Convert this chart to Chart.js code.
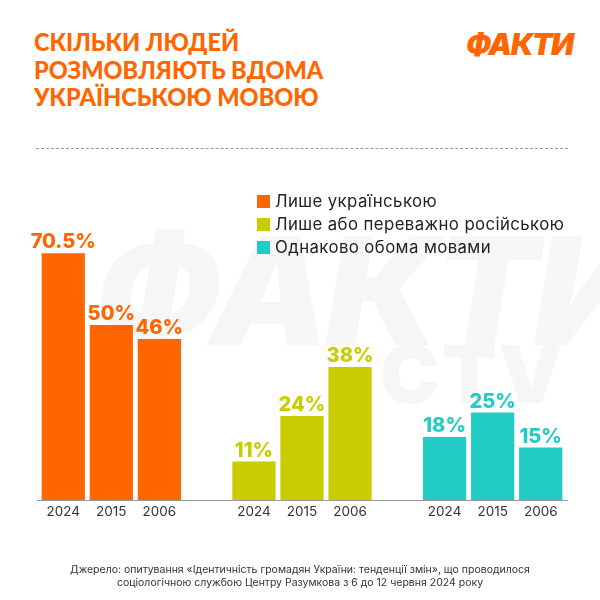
<!DOCTYPE html>
<html>
<head>
<meta charset="utf-8">
<script src="https://cdn.jsdelivr.net/npm/chart.js@4"></script>
<style>
  html, body { margin: 0; padding: 0; background: #fff; }
  #page { position: relative; width: 600px; height: 600px; overflow: hidden; font-family: Inter, "Noto Sans", sans-serif; }
  #title { position: absolute; left: 34px; top: 28px; color: #ff6600; font-family: Lato, sans-serif; font-weight: 900; font-size: 23.5px; line-height: 25.5px; letter-spacing: 0; transform: scaleY(1.08); transform-origin: 0 0; }
  #logo { position: absolute; left: 466px; top: 26px; color: #ff6600; font-weight: 900; font-style: italic; font-size: 30px; letter-spacing: -1.5px; }
  #rule { position: absolute; left: 36px; top: 148px; width: 532px; border-top: 1px dashed #9a9a9a; }
  #wm1 { position: absolute; left: 95px; top: 200px; color: #f6f6f6; font-weight: 900; font-style: italic; font-size: 150px; letter-spacing: -4px; }
  #wm2 { position: absolute; left: 380px; top: 325px; color: #f6f6f6; font-weight: 900; font-size: 80px; letter-spacing: 2px; }
  #legend { position: absolute; left: 257px; top: 190px; font-size: 16.8px; letter-spacing: 0.4px; color: #222; line-height: 23px; }
  #legend .sw { display: inline-block; width: 13px; height: 13px; margin-right: 5px; vertical-align: -1px; }
  #chart { position: absolute; left: 0; top: 0; }
  #source { position: absolute; left: 0; top: 563px; width: 600px; text-align: center; font-size: 10.5px; line-height: 13px; color: #333; }
</style>
</head>
<body>
<div id="page">
  <div id="wm1">ФАКТИ</div>
  <div id="wm2">CTV</div>
  <div id="title">СКІЛЬКИ ЛЮДЕЙ<br>РОЗМОВЛЯЮТЬ ВДОМА<br>УКРАЇНСЬКОЮ МОВОЮ</div>
  <div id="logo">ФАКТИ</div>
  <div id="rule"></div>
  <canvas id="chart" width="600" height="600"></canvas>
  <div id="legend"></div>
  <div id="source">Джерело: опитування «Ідентичність громадян України: тенденції змін», що проводилося<br>соціологічною службою Центру Разумкова з 6 до 12 червня 2024 року</div>
</div>
<script>
// Chart data
const groups = ['Лише українською', 'Лише або переважно російською', 'Однаково обома мовами'];
const groupColors = ['#ff6600', '#c8cc00', '#22ccc4'];
const years = ['2024', '2015', '2006'];
const values2024 = [70.5, 11, 18];
const values2015 = [50, 24, 25];
const values2006 = [46, 38, 15];

// Build legend
const legendEl = document.getElementById('legend');
groups.forEach((g, i) => {
    const row = document.createElement('div');
    row.innerHTML = '<span class="sw" style="background:' + groupColors[i] + '"></span>' + g;
    legendEl.appendChild(row);
});

// Labels above bars, years below bars, baseline
const barText = {
    id: 'barText',
    afterDatasetsDraw(chart) {
        const ctx = chart.ctx;
        const base = chart.scales.y.getPixelForValue(0);
        ctx.save();
        ctx.strokeStyle = '#9a9a9a';
        ctx.lineWidth = 1;
        ctx.beginPath();
        ctx.moveTo(37, Math.round(base) + 0.5);
        ctx.lineTo(568, Math.round(base) + 0.5);
        ctx.stroke();

        chart.data.datasets.forEach((ds, di) => {
            chart.getDatasetMeta(di).data.forEach((bar, i) => {
                ctx.textAlign = 'center';
                ctx.textBaseline = 'alphabetic';
                ctx.fillStyle = groupColors[i];
                ctx.font = '800 20px Inter, sans-serif';
                ctx.fillText(ds.data[i] + '%', bar.x, bar.y - 5);
                ctx.fillStyle = '#333';
                ctx.font = '400 13.5px Inter, sans-serif';
                ctx.fillText(ds.label, bar.x, base + 16);
            });
        });
        ctx.restore();
    }
};

new Chart(document.getElementById('chart'), {
    type: 'bar',
    data: {
        labels: groups,
        datasets: [
            { label: years[0], data: values2024, backgroundColor: groupColors },
            { label: years[1], data: values2015, backgroundColor: groupColors },
            { label: years[2], data: values2006, backgroundColor: groupColors }
        ]
    },
    options: {
        responsive: false,
        animation: false,
        layout: { padding: { top: 220, bottom: 100, left: 16, right: 12 } },
        datasets: { bar: { categoryPercentage: 0.756, barPercentage: 0.9 } },
        scales: {
            x: { display: false },
            y: { display: false, min: 0, max: 80 }
        },
        plugins: {
            legend: { display: false },
            tooltip: { enabled: false }
        }
    },
    plugins: [barText]
});
</script>
</body>
</html>
